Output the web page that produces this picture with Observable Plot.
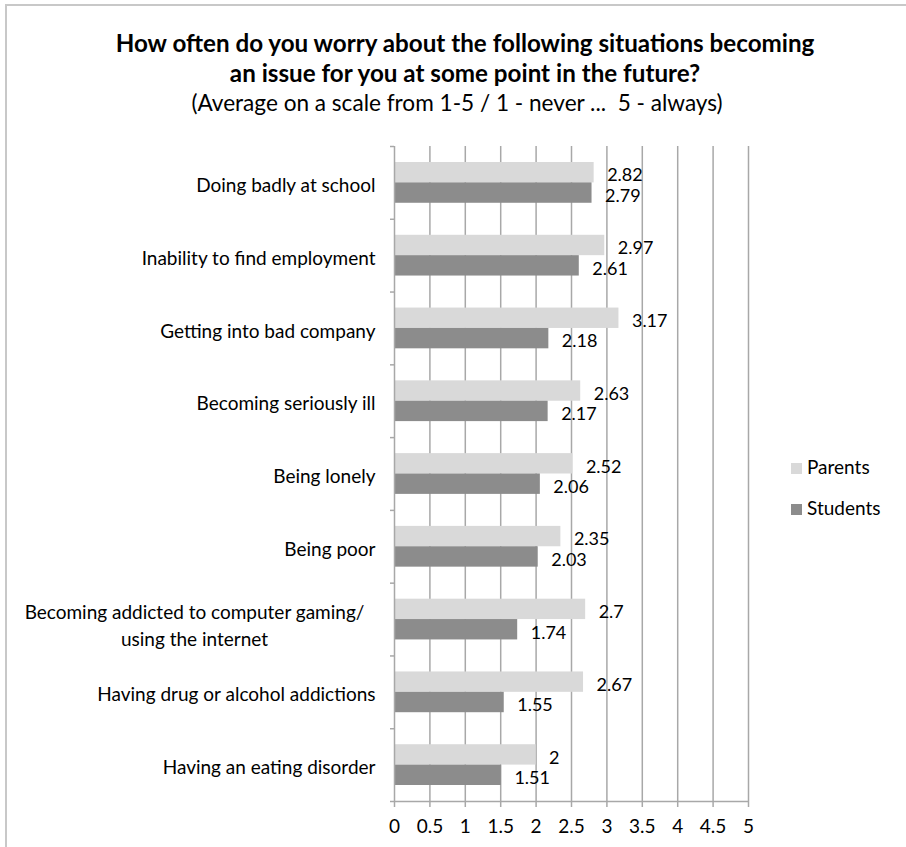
<!DOCTYPE html>
<html>
<head>
<meta charset="utf-8">
<script src="https://cdn.jsdelivr.net/npm/d3@7"></script>
<script src="https://cdn.jsdelivr.net/npm/@observablehq/plot@0.6"></script>
<style>
  body { margin: 0; background: #fff; width: 906px; height: 847px; position: relative; overflow: hidden; font-family: Lato, sans-serif; }
  #frame { position: absolute; left: 5px; top: 4px; width: 901px; height: 843px; border-top: 2px solid #c8c8c8; border-left: 2px solid #c8c8c8; box-sizing: border-box; }
  .ttl { position: absolute; width: 906px; text-align: center; line-height: 1; color: #000; white-space: nowrap; }
  .ttl.b { font-weight: 700; font-size: 24.2px; left: 12px; }
  .ttl.s { font-weight: 400; font-size: 22.6px; left: 4px; }
  #chart { position: absolute; left: 0; top: 120px; }
  .leg { position: absolute; left: 791px; font-size: 19px; color: #000; line-height: 22px; }
  .leg span.sw { display: inline-block; width: 11px; height: 11px; margin-right: 5px; vertical-align: 0px; }
</style>
</head>
<body>
<div id="frame"></div>
<div class="ttl b" style="top:31px">How often do you worry about the following situations becoming</div>
<div class="ttl b" style="top:61px">an issue for you at some point in the future?</div>
<div class="ttl s" style="top:92px">(Average on a scale from 1-5 / 1 - never ...&nbsp; 5 - always)</div>
<div id="chart"></div>
<div id="legend"></div>
<script>
const categories = [
  "Doing badly at school",
  "Inability to find employment",
  "Getting into bad company",
  "Becoming seriously ill",
  "Being lonely",
  "Being poor",
  "Becoming addicted to computer gaming/\nusing the internet",
  "Having drug or alcohol addictions",
  "Having an eating disorder"
];
const parents  = [2.82, 2.97, 3.17, 2.63, 2.52, 2.35, 2.7, 2.67, 2];
const students = [2.79, 2.61, 2.18, 2.17, 2.06, 2.03, 1.74, 1.55, 1.51];
const seriesNames = ["Parents", "Students"];
const seriesColors = ["#d9d9d9", "#8c8c8c"];
const xTicks = [0, 0.5, 1, 1.5, 2, 2.5, 3, 3.5, 4, 4.5, 5];
const xTickLabels = ["0", "0.5", "1", "1.5", "2", "2.5", "3", "3.5", "4", "4.5", "5"];

const rows = categories.flatMap((c, i) => [
  {i, category: c, series: seriesNames[0], value: parents[i]},
  {i, category: c, series: seriesNames[1], value: students[i]}
]);

// band layout within each category (fractions of a category band)
const gapFrac = 0.22;
const barFrac = (1 - 2 * gapFrac) / 2;
const y1Of = d => d.i + gapFrac + (d.series === seriesNames[0] ? 0 : barFrac);
const y2Of = d => y1Of(d) + barFrac;
const yMidOf = d => (y1Of(d) + y2Of(d)) / 2;

const gridColor = "#a8a8a8";
const singles = categories.map((c, i) => ({c, i})).filter(d => !d.c.includes("\n"));
const multis = categories.map((c, i) => ({c, i})).filter(d => d.c.includes("\n"));

const chart = Plot.plot({
  width: 906,
  height: 727,
  marginTop: 26,
  marginBottom: 46,
  marginLeft: 394,
  marginRight: 158,
  style: {fontFamily: "Lato, sans-serif", fontSize: "19px", background: "transparent", overflow: "visible", color: "#000"},
  x: {domain: [0, 5], label: null},
  y: {domain: [0, categories.length], reverse: true, label: null},
  color: {domain: seriesNames, range: seriesColors},
  marks: [
    Plot.ruleX(xTicks.slice(1), {stroke: gridColor, strokeWidth: 1.5}),
    Plot.rect(rows, {x1: () => 0, x2: "value", y1: y1Of, y2: y2Of, fill: "series"}),
    Plot.ruleX([0], {stroke: gridColor, strokeWidth: 1.5}),
    Plot.ruleY([categories.length], {stroke: gridColor, strokeWidth: 1.5}),
    Plot.axisY(d3.range(0, categories.length + 1), {tickSize: 4, tickFormat: () => "", stroke: gridColor, strokeWidth: 1.5, label: null}),
    Plot.axisX(xTicks, {tickSize: 6, tickPadding: 12, stroke: gridColor, strokeWidth: 1.5, fill: "#000", label: null,
      tickFormat: d => xTickLabels[xTicks.indexOf(d)]}),
    Plot.text(rows, {x: "value", y: yMidOf, text: d => String(d.value), textAnchor: "start", dx: 13, dy: 3, fontSize: 18, fill: "#000"}),
    Plot.text(singles, {x: () => 0, y: d => d.i + 0.5, text: d => d.c, textAnchor: "end", dx: -19, dy: 3, fill: "#000"}),
    Plot.text(multis, {x: () => 0, y: d => d.i + 0.5, text: d => d.c, textAnchor: "middle", dx: -200, dy: 4, lineHeight: 1.45, fill: "#000"})
  ]
});
document.getElementById("chart").appendChild(chart);

const legend = document.getElementById("legend");
seriesNames.forEach((s, k) => {
  const div = document.createElement("div");
  div.className = "leg";
  div.style.top = (456 + k * 41) + "px";
  div.innerHTML = `<span class="sw" style="background:${seriesColors[k]}"></span>${s}`;
  legend.appendChild(div);
});
</script>
</body>
</html>
